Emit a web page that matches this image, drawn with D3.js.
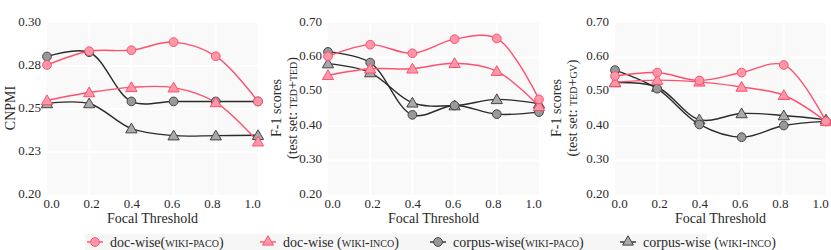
<!DOCTYPE html>
<html>
<head>
<meta charset="utf-8">
<script src="https://cdn.jsdelivr.net/npm/d3@7"></script>
<style>
  body { margin: 0; background: #fff; }
  svg text { font-family: "Liberation Serif", "DejaVu Serif", serif; fill: #2a2a2a; }
  .sc { font-variant: small-caps; }
</style>
</head>
<body>
<script>
// focal threshold values (x)
var thresholds = [0, 0.2, 0.4, 0.6, 0.8, 1.0];
var xTicks = [0, 0.2, 0.4, 0.6, 0.8, 1.0];

// panel 1: CNPMI
var cnpmiDocPaco    = [0.2756, 0.2836, 0.2842, 0.2889, 0.2807, 0.2544];
var cnpmiDocInco    = [0.2550, 0.2596, 0.2626, 0.2624, 0.2538, 0.2310];
var cnpmiCorpusPaco = [0.2805, 0.2830, 0.2544, 0.2544, 0.2544, 0.2544];
var cnpmiCorpusInco = [0.2532, 0.2532, 0.2386, 0.2345, 0.2345, 0.2347];
var cnpmiTicks = [0.20, 0.225, 0.25, 0.275, 0.30];

// panel 2: F-1 on TED+TED
var tedDocPaco    = [0.603, 0.637, 0.612, 0.653, 0.655, 0.478];
var tedDocInco    = [0.548, 0.567, 0.567, 0.583, 0.560, 0.458];
var tedCorpusPaco = [0.616, 0.585, 0.433, 0.460, 0.435, 0.441];
var tedCorpusInco = [0.582, 0.556, 0.468, 0.460, 0.478, 0.465];

// panel 3: F-1 on TED+GV
var gvDocPaco    = [0.546, 0.556, 0.533, 0.556, 0.578, 0.414];
var gvDocInco    = [0.528, 0.534, 0.529, 0.514, 0.490, 0.414];
var gvCorpusPaco = [0.563, 0.509, 0.405, 0.368, 0.402, 0.414];
var gvCorpusInco = [0.527, 0.514, 0.419, 0.437, 0.431, 0.419];
var f1Ticks = [0.20, 0.30, 0.40, 0.50, 0.60, 0.70];

var seriesNames = ["doc-wise", "doc-wise", "corpus-wise", "corpus-wise"];
var seriesSets = ["wiki-paco", "wiki-inco", "wiki-paco", "wiki-inco"];

var pink = "#ff4f6d", pinkFill = "#ff97a8";
var styles = [
  {line: pink, fill: pinkFill, stroke: pink, shape: "circle"},
  {line: pink, fill: pinkFill, stroke: pink, shape: "triangle"},
  {line: "#2b2b2b", fill: "#999", stroke: "#444", shape: "circle"},
  {line: "#2b2b2b", fill: "#aaa", stroke: "#444", shape: "triangle"}
];

var panels = [
  {left: 47, domain: [0.20, 0.30], ticks: cnpmiTicks, title: ["CNPMI"], titleX: [10],
   data: [cnpmiDocPaco, cnpmiDocInco, cnpmiCorpusPaco, cnpmiCorpusInco]},
  {left: 328, domain: [0.20, 0.70], ticks: f1Ticks, title: ["F-1 scores", "(test set: |ted+ted|)"], titleX: [276, 292],
   data: [tedDocPaco, tedDocInco, tedCorpusPaco, tedCorpusInco]},
  {left: 615, domain: [0.20, 0.70], ticks: f1Ticks, title: ["F-1 scores", "(test set: |ted+gv|)"], titleX: [556, 572],
   data: [gvDocPaco, gvDocInco, gvCorpusPaco, gvCorpusInco]}
];

var plotW = 211, plotTop = 23, plotBottom = 195;

var svg = d3.select("body").append("svg")
  .attr("width", 831)
  .attr("height", 250);

function addRich(sel, str) {
  // parts between | | are small caps
  str.split("|").forEach(function(p, i) {
    if (!p) return;
    var t = sel.append("tspan").text(p);
    if (i % 2 == 1) t.attr("class", "sc");
  });
}

panels.forEach(function(p) {
  var x = d3.scaleLinear().domain([0, 1]).range([p.left, p.left + plotW]);
  // tick labels sit slightly inside the plot ends, as in the original
  var xLab = d3.scaleLinear().domain([0, 1]).range([p.left + 4, p.left + plotW - 6]);
  var y = d3.scaleLinear().domain(p.domain).range([plotBottom, plotTop]);
  var g = svg.append("g");

  // plot background
  g.append("rect")
    .attr("x", x(0)).attr("y", plotTop)
    .attr("width", plotW).attr("height", plotBottom - plotTop)
    .attr("fill", "#f9f9f9");

  // grid
  g.selectAll(".vg").data(xTicks.slice(1, -1)).enter().append("line")
    .attr("x1", function(d) { return x(d); }).attr("x2", function(d) { return x(d); })
    .attr("y1", plotTop).attr("y2", plotBottom)
    .attr("stroke", "#fff").attr("stroke-width", 2);
  g.selectAll(".hg").data(p.ticks.slice(1, -1)).enter().append("line")
    .attr("x1", x(0)).attr("x2", x(1))
    .attr("y1", function(d) { return y(d); }).attr("y2", function(d) { return y(d); })
    .attr("stroke", "#fff").attr("stroke-width", 2);

  // axes (labels only)
  var yAxis = d3.axisLeft(y).tickValues(p.ticks).tickFormat(d3.format(".2f")).tickSize(0).tickPadding(6);
  var ya = g.append("g").attr("transform", "translate(" + x(0) + ",-2)").call(yAxis);
  var xAxis = d3.axisBottom(xLab).tickValues(xTicks).tickFormat(d3.format(".1f")).tickSize(0).tickPadding(4);
  var xa = g.append("g").attr("transform", "translate(0," + plotBottom + ")").call(xAxis);
  [ya, xa].forEach(function(a) {
    a.select(".domain").remove();
    a.selectAll("text").style("font-size", "13px").attr("fill", "#2a2a2a")
      .style("font-family", "'Liberation Serif', serif");
  });

  g.append("text")
    .attr("x", x(0.5)).attr("y", 223)
    .attr("text-anchor", "middle")
    .style("font-size", "14px")
    .text("Focal Threshold");

  p.title.forEach(function(t, i) {
    var tx = g.append("text")
      .attr("transform", "translate(" + p.titleX[i] + ",108) rotate(-90)")
      .attr("text-anchor", "middle")
      .attr("dy", "0.35em")
      .style("font-size", "14px");
    addRich(tx, t);
  });

  // lines + markers
  var line = d3.line()
    .x(function(d, i) { return x(thresholds[i]); })
    .y(function(d) { return y(d); })
    .curve(d3.curveCatmullRom.alpha(0.5));

  var order = [3, 2, 1, 0];
  order.forEach(function(s) {
    g.append("path")
      .attr("d", line(p.data[s]))
      .attr("fill", "none")
      .attr("stroke", styles[s].line)
      .attr("stroke-width", 1.4);
  });
  order.forEach(function(s) {
    var st = styles[s];
    var sym = d3.symbol().type(st.shape == "circle" ? d3.symbolCircle : d3.symbolTriangle)
      .size(st.shape == "circle" ? 60 : 55);
    g.selectAll(".m" + s).data(p.data[s]).enter().append("path")
      .attr("d", sym)
      .attr("transform", function(d, i) {
        return "translate(" + x(thresholds[i]) + "," + (y(d) + (st.shape == "circle" ? 0 : 1)) + ")";
      })
      .attr("fill", st.fill)
      .attr("stroke", st.stroke)
      .attr("stroke-width", 1);
  });
});

// legend
svg.append("rect")
  .attr("x", 85).attr("y", 234).attr("width", 622).attr("height", 16)
  .attr("fill", "#f6f6f6");

var legendX = [95, 268, 438, 628];
var legendGap = ["", " ", "", " "];
legendX.forEach(function(lx, s) {
  var st = styles[s];
  var sym = d3.symbol().type(st.shape == "circle" ? d3.symbolCircle : d3.symbolTriangle)
    .size(st.shape == "circle" ? 60 : 50);
  svg.append("line")
    .attr("x1", lx - 8).attr("x2", lx + 8).attr("y1", 242).attr("y2", 242)
    .attr("stroke", st.line).attr("stroke-width", 1.4);
  svg.append("path")
    .attr("d", sym)
    .attr("transform", "translate(" + lx + ",242)")
    .attr("fill", st.fill).attr("stroke", st.stroke);
  var t = svg.append("text")
    .attr("x", lx + 15).attr("y", 242).attr("dy", "0.35em")
    .style("font-size", "14px");
  addRich(t, seriesNames[s] + legendGap[s] + "(|" + seriesSets[s] + "|)");
});
</script>
</body>
</html>
